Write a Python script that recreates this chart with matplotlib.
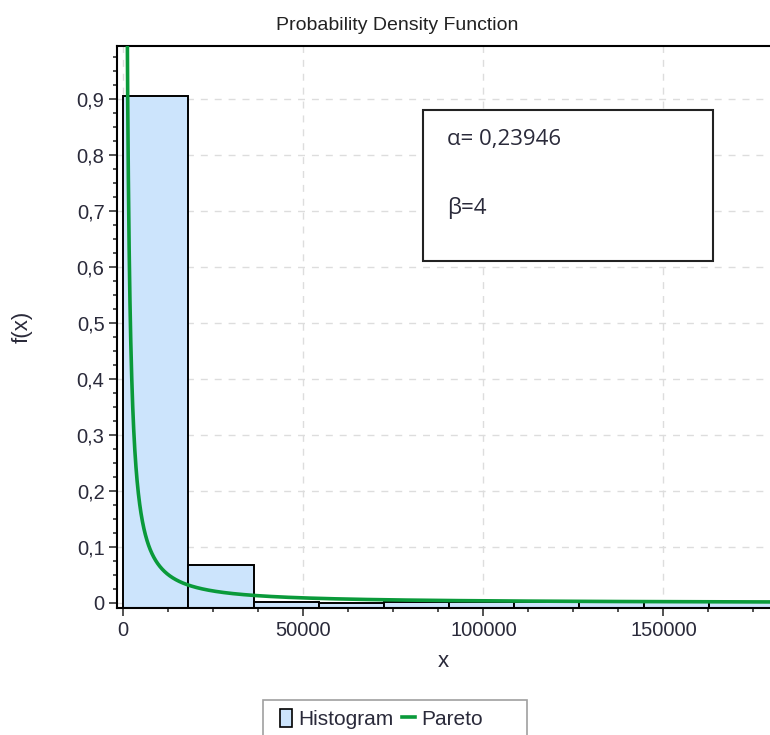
import numpy as np
import matplotlib
matplotlib.use('agg')
import matplotlib.pyplot as plt
from matplotlib.patches import Patch, Rectangle
from matplotlib.lines import Line2D
from matplotlib.ticker import FuncFormatter, MultipleLocator

# histogram
bin_edges = [4, 18084, 36164, 54244, 72324, 90404, 108484, 126564, 144644, 162724, 180804]
bin_heights = [0.905, 0.067, 0.001, 0.0, 0.002, 0.001, 0.001, 0.001, 0.001, 0.001]

# fitted Pareto parameters shown on the chart
alpha = 0.23946
beta = 4
param_text = ['\u03b1= 0,23946', '\u03b2=4']

x_ticks = [0, 50000, 100000, 150000]
y_ticks = [0, 0.1, 0.2, 0.3, 0.4, 0.5, 0.6, 0.7, 0.8, 0.9]

plt.rcParams['font.family'] = ['Liberation Sans Narrow', 'Liberation Sans', 'DejaVu Sans']
text_col = '#2a2a3a'

fig = plt.figure(figsize=(7.7, 7.35), dpi=100)
ax = fig.add_axes([117 / 770, 1 - 608 / 735, 1 - 117 / 770, (608 - 46) / 735])

ymin, ymax = -0.009, 0.995
ax.set_xlim(-1750, 179600)
ax.set_ylim(ymin, ymax)

# bars drawn up from the bottom of the plot area, like the original
widths = np.diff(bin_edges)
heights = np.array(bin_heights)
ax.bar(bin_edges[:-1], heights - ymin, width=widths, bottom=ymin, align='edge',
       color='#cce4fc', edgecolor='black', linewidth=1.4, zorder=2)

# Pareto pdf scaled to the bin width
bw = widths.mean()
xs = np.linspace(beta, 180000, 4000)
pdf = alpha * beta ** alpha / xs ** (alpha + 1) * bw
ax.plot(xs, pdf, color='#0a9a3a', linewidth=2.6, zorder=3)

ax.set_xticks(x_ticks)
ax.set_yticks(y_ticks)
ax.xaxis.set_minor_locator(MultipleLocator(12500))
ax.yaxis.set_minor_locator(MultipleLocator(0.025))
ax.yaxis.set_major_formatter(FuncFormatter(
    lambda v, p: '0' if abs(v) < 1e-9 else ('%.1f' % v).replace('.', ',')))
ax.xaxis.set_major_formatter(FuncFormatter(lambda v, p: '%d' % v))
ax.tick_params(which='major', length=6, width=1.2, color='#333333',
               labelsize=14.5, labelcolor=text_col, pad=3)
ax.tick_params(which='minor', length=3, width=1.2, color='#333333')
ax.grid(True, which='major', linestyle=(0, (5, 5)), color='#dddddd', linewidth=1, zorder=0)
ax.set_axisbelow(True)
for s in ['left', 'bottom', 'top']:
    ax.spines[s].set_linewidth(1.5)
ax.spines['right'].set_visible(False)

ax.set_xlabel('x', fontsize=16, color=text_col, labelpad=8)
ax.set_ylabel('f(x)', fontsize=16, color=text_col, labelpad=32)

fig.text(397 / 770, 1 - 25 / 735, 'Probability Density Function', ha='center', va='center',
         fontsize=14, color='#222222')

# parameter box
box = Rectangle((423 / 770, 1 - 261 / 735), 290 / 770, 151 / 735, transform=fig.transFigure,
                facecolor='white', edgecolor='#222222', linewidth=1.5, zorder=5)
fig.patches.append(box)
for txt, ypix in zip(param_text, [139, 208]):
    fig.text(447 / 770, 1 - ypix / 735, txt, ha='left', va='center', fontsize=16,
             family=['Open Sans', 'DejaVu Sans'], color='#2a2a3a', zorder=6)

# legend frame is wider than its contents in the original
frame = Rectangle((263 / 770, 1 - 745 / 735), 264 / 770, 45 / 735, transform=fig.transFigure,
                  facecolor='white', edgecolor='#a0a0a0', linewidth=1.2)
fig.patches.append(frame)
handles = [Patch(facecolor='#cce4fc', edgecolor='black', linewidth=1.2),
           Line2D([0], [0], color='#0a9a3a', linewidth=2.6)]
leg = fig.legend(handles, ['Histogram', 'Pareto'], loc='center left', ncol=2,
                 bbox_to_anchor=(262 / 770, 1 - 719 / 735), fontsize=15, frameon=False,
                 handlelength=0.6, handleheight=1.0, handletextpad=0.3,
                 columnspacing=0.4, borderpad=0.35)
for t in leg.get_texts():
    t.set_color(text_col)

fig.savefig('out.png', dpi=100)
